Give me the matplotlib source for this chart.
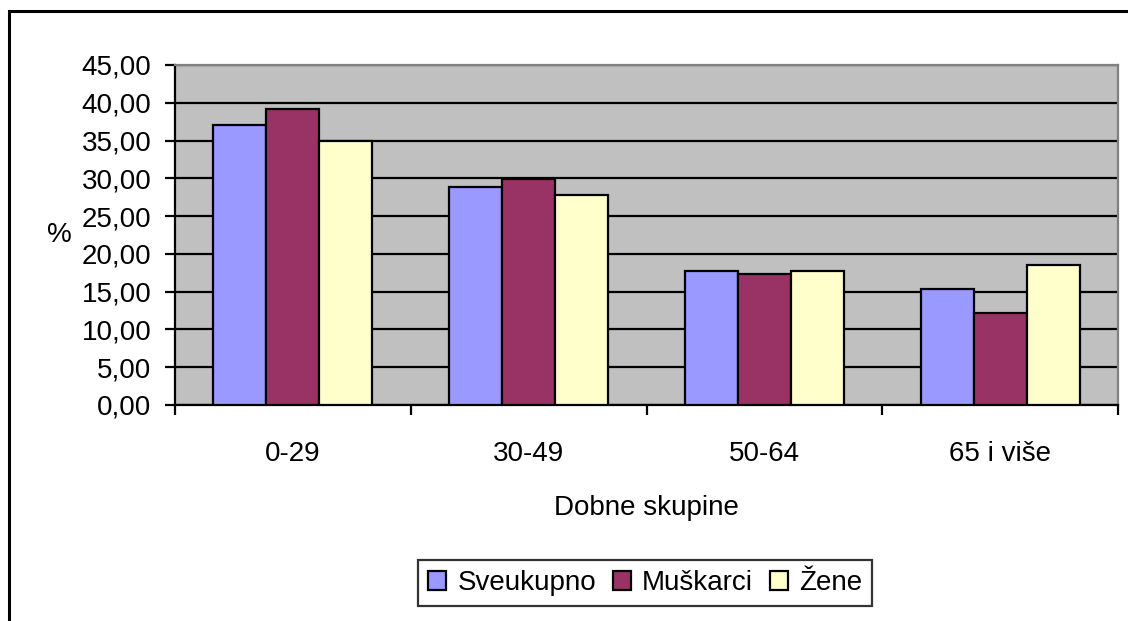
import numpy as np
import matplotlib
matplotlib.use("Agg")
import matplotlib.pyplot as plt
from matplotlib.ticker import FuncFormatter, FixedLocator
from matplotlib.patches import Rectangle

plt.rcParams['font.family'] = ['Liberation Sans', 'DejaVu Sans']

kategorije = ["0-29", "30-49", "50-64", "65 i više"]
serije = ["Sveukupno", "Muškarci", "Žene"]
sveukupno = [37.1, 28.9, 17.8, 15.3]
muskarci = [39.2, 29.9, 17.4, 12.2]
zene = [34.9, 27.8, 17.8, 18.5]
boje = ["#9999FF", "#993366", "#FFFFCC"]

fs = 20

fig = plt.figure(figsize=(11.28, 6.21), dpi=100)
ax = fig.add_axes([175/1128, 1-405/621, (1118-175)/1128, (405-65)/621])
ax.set_facecolor("#C0C0C0")

x = np.arange(len(kategorije))
w = 0.225
for i, (vals, c, lab) in enumerate(zip([sveukupno, muskarci, zene], boje, serije)):
    ax.bar(x + (i - 1) * w, vals, w, color=c, edgecolor="black", linewidth=1.6,
           label=lab, zorder=3)

ax.set_xlim(-0.5, len(kategorije) - 0.5)
ax.set_ylim(0, 45)
ax.set_yticks(np.arange(0, 46, 5))
ax.yaxis.set_major_formatter(FuncFormatter(lambda v, p: f"{v:.2f}".replace(".", ",")))
ax.yaxis.grid(True, color="black", linewidth=1.6, zorder=1)
ax.set_axisbelow(True)

ax.set_xticks(x)
ax.set_xticklabels(kategorije)
ax.xaxis.set_minor_locator(FixedLocator(np.arange(-0.5, len(kategorije), 1)))
ax.tick_params(axis="x", which="major", length=0, pad=26, labelsize=fs)
ax.tick_params(axis="x", which="minor", length=7, width=1.6, direction="out")
ax.tick_params(axis="y", length=7, width=1.6, direction="out", pad=10, labelsize=fs)

for s in ["left", "bottom"]:
    ax.spines[s].set_color("black")
    ax.spines[s].set_linewidth(1.6)
for s in ["top", "right"]:
    ax.spines[s].set_color("#808080")
    ax.spines[s].set_linewidth(1.6)

ax.set_xlabel("Dobne skupine", fontsize=fs, labelpad=20)
ax.set_ylabel("%", fontsize=fs, rotation=0)
ax.yaxis.set_label_coords(-0.123, 0.5)
ax.yaxis.label.set_verticalalignment("center")

leg = fig.legend(loc="center", bbox_to_anchor=(645/1128, 1-583/621), ncol=3,
                 fontsize=fs, frameon=True, fancybox=False, edgecolor="black",
                 handlelength=0.65, handleheight=0.65, handletextpad=0.4,
                 columnspacing=0.6, borderpad=0.35)
leg.get_frame().set_linewidth(1.6)

fig.patches.append(Rectangle((9/1128, -0.1), 1.2, 1-11/621 + 0.1, transform=fig.transFigure,
                             fill=False, edgecolor="black", linewidth=2.2))

fig.savefig("out.png", dpi=100)
